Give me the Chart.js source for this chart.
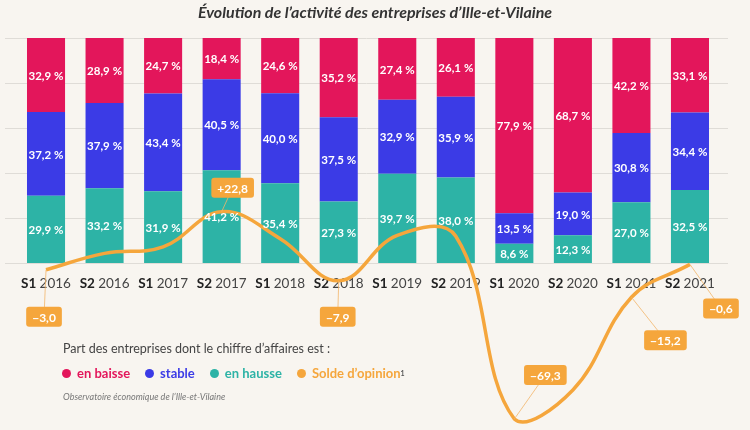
<!DOCTYPE html>
<html lang="fr">
<head>
<meta charset="utf-8">
<title>Évolution de l’activité des entreprises d’Ille-et-Vilaine</title>
<script src="https://cdn.jsdelivr.net/npm/chart.js@4"></script>
<style>
  body { margin: 0; background: #f8f5f0; font-family: Lato, "Noto Sans", sans-serif; }
  #cadre { position: relative; width: 750px; height: 430px; overflow: hidden; }
  #graphique { position: absolute; left: 0; top: 0; }
  h1 { position: absolute; left: 0; top: 2px; width: 750px; margin: 0; text-align: center;
       font-size: 16px; font-style: italic; font-weight: 700; color: #333; }
  .intro { position: absolute; left: 63px; top: 341px; margin: 0; font-size: 12.5px; color: #444; }
  .items { position: absolute; left: 62px; top: 365px; margin: 0; padding: 0; list-style: none; display: flex; }
  .items li { font-size: 13px; font-weight: 700; margin-right: 15px; display: flex; align-items: center; }
  .items li span { display: inline-block; width: 9px; height: 9px; border-radius: 50%; margin-right: 6px; }
  .items sup { color: #555; font-size: 7px; }
  .source { position: absolute; left: 63px; top: 391px; margin: 0; font-size: 9px; font-style: italic; color: #777; }
</style>
</head>
<body>
<div id="cadre">
  <canvas id="graphique" width="750" height="430"></canvas>
  <h1>Évolution de l’activité des entreprises d’Ille-et-Vilaine</h1>
  <p class="intro">Part des entreprises dont le chiffre d’affaires est :</p>
  <ul class="items">
    <li style="color:#e3165b"><span style="background:#e3165b"></span>en baisse</li>
    <li style="color:#3b3be6"><span style="background:#3b3be6"></span>stable</li>
    <li style="color:#2db3a6"><span style="background:#2db3a6"></span>en hausse</li>
    <li style="color:#f5a63c"><span style="background:#f5a63c"></span>Solde d’opinion<sup>1</sup></li>
  </ul>
  <p class="source">Observatoire économique de l’Ille-et-Vilaine</p>
</div>
<script>
const semestres = ['S1', 'S2', 'S1', 'S2', 'S1', 'S2', 'S1', 'S2', 'S1', 'S2', 'S1', 'S2'];
const annees = ['2016', '2016', '2017', '2017', '2018', '2018', '2019', '2019', '2020', '2020', '2021', '2021'];
const enBaisse = [32.9, 28.9, 24.7, 18.4, 24.6, 35.2, 27.4, 26.1, 77.9, 68.7, 42.2, 33.1];
const stable = [37.2, 37.9, 43.4, 40.5, 40.0, 37.5, 32.9, 35.9, 13.5, 19.0, 30.8, 34.4];
const enHausse = [29.9, 33.2, 31.9, 41.2, 35.4, 27.3, 39.7, 38.0, 8.6, 12.3, 27.0, 32.5];
const soldeOpinion = [-3.0, 4.3, 7.2, 22.8, 10.8, -7.9, 12.3, 11.9, -69.3, -56.4, -15.2, -0.6];
const grilleY = [0, 20, 40, 60, 80, 100];

// étiquettes du solde : index du point + décalage de la pastille
const pastilles = [
    { i: 0, dx: -2, dy: 47 },
    { i: 3, dx: 11, dy: -24 },
    { i: 5, dx: -1, dy: 36 },
    { i: 8, dx: 31, dy: -44 },
    { i: 10, dx: 34, dy: 43 },
    { i: 11, dx: 31, dy: 44 }
];

const ROSE = '#e3165b', BLEU = '#3b3be6', VERT = '#2db3a6', ORANGE = '#f5a63c';

function fmt(v) {
    return v.toFixed(1).replace('.', ',');
}

function rectArrondi(ctx, x, y, w, h, r) {
    ctx.beginPath();
    ctx.moveTo(x + r, y);
    ctx.arcTo(x + w, y, x + w, y + h, r);
    ctx.arcTo(x + w, y + h, x, y + h, r);
    ctx.arcTo(x, y + h, x, y, r);
    ctx.arcTo(x, y, x + w, y, r);
    ctx.closePath();
}

const habillage = {
    id: 'habillage',
    beforeDatasetsDraw(chart) {
        const ctx = chart.ctx;
        const y = chart.scales.y;
        const x = chart.scales.x;
        ctx.save();
        ctx.strokeStyle = '#dfdcd7';
        ctx.lineWidth = 1;
        grilleY.forEach(v => {
            const py = Math.round(y.getPixelForValue(v)) + 0.5;
            ctx.beginPath();
            ctx.moveTo(5, py);
            ctx.lineTo(728, py);
            ctx.stroke();
        });

        // libellés des semestres
        const base = y.getPixelForValue(0) + 21;
        ctx.textBaseline = 'middle';
        semestres.forEach((s, i) => {
            const cx = x.getPixelForValue(i);
            ctx.font = '700 13.5px Lato';
            const w1 = ctx.measureText(s + ' ').width;
            ctx.font = '400 13.5px Lato';
            const w2 = ctx.measureText(annees[i]).width;
            const gauche = cx - (w1 + w2) / 2;
            ctx.textAlign = 'left';
            ctx.font = '700 13.5px Lato';
            ctx.fillStyle = '#222';
            ctx.fillText(s, gauche, base);
            ctx.font = '400 13.5px Lato';
            ctx.fillStyle = '#444';
            ctx.fillText(annees[i], gauche + w1, base);
        });
        ctx.restore();
    },
    afterDatasetsDraw(chart) {
        const ctx = chart.ctx;
        ctx.save();
        ctx.textAlign = 'center';
        ctx.textBaseline = 'middle';

        // pourcentages dans les barres
        ctx.font = '700 11.5px Lato';
        ctx.fillStyle = '#fff';
        [0, 1, 2].forEach(d => {
            const meta = chart.getDatasetMeta(d);
            const vals = chart.data.datasets[d].data;
            meta.data.forEach((bar, i) => {
                ctx.fillText(fmt(vals[i]) + '\u202f%', bar.x, (bar.y + bar.base) / 2 + 1);
            });
        });

        // pastilles du solde d'opinion
        const ligne = chart.getDatasetMeta(3);
        ctx.font = '700 12px Lato';
        pastilles.forEach(p => {
            const pt = ligne.data[p.i];
            const v = soldeOpinion[p.i];
            const txt = (v > 0 ? '+' : '\u2212') + fmt(Math.abs(v));
            const bx = pt.x + p.dx, by = pt.y + p.dy;
            ctx.strokeStyle = '#f2b56a';
            ctx.lineWidth = 0.8;
            ctx.beginPath();
            ctx.moveTo(pt.x, pt.y);
            ctx.lineTo(bx, by);
            ctx.stroke();
            const w = ctx.measureText(txt).width + 12;
            ctx.fillStyle = ORANGE;
            rectArrondi(ctx, bx - w / 2, by - 10, w, 20, 3);
            ctx.fill();
            ctx.fillStyle = '#fff';
            ctx.fillText(txt, bx, by + 1);
        });
        ctx.restore();
    }
};

new Chart(document.getElementById('graphique'), {
    data: {
        labels: semestres.map((s, i) => s + ' ' + annees[i]),
        datasets: [
            { type: 'bar', label: 'en hausse', data: enHausse, backgroundColor: VERT, stack: 'part', order: 1 },
            { type: 'bar', label: 'stable', data: stable, backgroundColor: BLEU, stack: 'part', order: 1 },
            { type: 'bar', label: 'en baisse', data: enBaisse, backgroundColor: ROSE, stack: 'part', order: 1 },
            {
                type: 'line', label: 'Solde d’opinion', data: soldeOpinion, yAxisID: 'y2',
                borderColor: ORANGE, borderWidth: 3.5, pointRadius: 0, tension: 0.4, fill: false, order: 0
            }
        ]
    },
    options: {
        responsive: false,
        animation: false,
        devicePixelRatio: 1,
        layout: { padding: { left: 16.75, right: 30.75, top: 38, bottom: 0 } },
        datasets: { bar: { categoryPercentage: 1, barPercentage: 0.65 } },
        scales: {
            x: { display: false, stacked: true },
            y: { display: false, stacked: true, min: -74.2, max: 100 },
            y2: { display: false, min: -74.2, max: 100 }
        },
        plugins: { legend: { display: false }, tooltip: { enabled: false } }
    },
    plugins: [habillage]
});
</script>
</body>
</html>
